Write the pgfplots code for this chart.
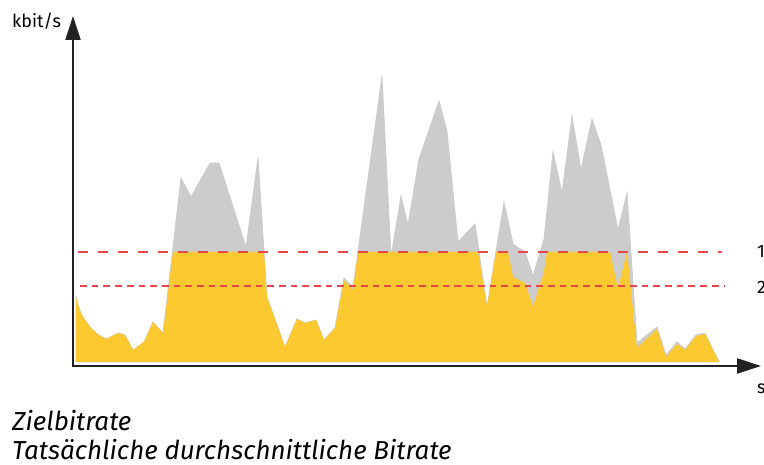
\documentclass[border=0pt]{standalone}
\usepackage{fontspec}
\setmainfont{Fira Sans}
\usepackage{pgfplots}
\pgfplotsset{compat=1.18}
\usetikzlibrary{arrows.meta}
\definecolor{areaY}{HTML}{FDC930}
\definecolor{areaG}{HTML}{CCCCCC}
\definecolor{dashR}{HTML}{E8474A}
\definecolor{axc}{HTML}{222222}
\begin{document}
\begin{tikzpicture}
\begin{axis}[at={(0,0)}, anchor=south west,
  scale only axis, width=764pt, height=465pt,
  xmin=0, xmax=764, ymin=0, ymax=465, y dir=reverse,
  hide axis, clip=false]
% original (uncapped) bitrate
\addplot[fill=areaG, draw=areaG, line width=0.8pt] coordinates {
(76,362) (76,297) (78,305) (81,313) (85,320) (90,327) (96,333) (102,337) (107,339) (112,336) (118,333) (125,335) (133,350) (144,342) (153,322) (163,333) (181,178) (191,197) (210,163) (219,163) (246,247) (258,158) (264,252) (267,297) (285,347) (297,319) (305,323) (316,320) (324,340) (335,328) (344,278) (353,288) (382,76) (391,257) (401,196) (408,225) (419,159) (439,101) (447,131) (458,242) (475,224) (487,307) (504,202) (513,244) (525,252) (533,276) (544,239) (553,152) (562,193) (572,116) (581,170) (592,119) (601,145) (618,230) (627,193) (637,343) (657,327) (666,355) (677,342) (685,349) (696,335) (705,333) (719,362)
} -- cycle;
% actual bitrate
\addplot[fill=areaY, draw=none] coordinates {
(76,362) (76,297) (78,305) (81,313) (85,320) (90,327) (96,333) (102,337) (107,339) (112,336) (118,333) (125,335) (133,350) (144,342) (153,322) (163,333) (173,252) (264,252) (267,297) (285,347) (297,319) (305,323) (316,320) (324,340) (335,328) (344,280) (353,290) (358,252) (478,252) (487,307) (496,252) (508,252) (513,277) (525,283) (533,307) (544,272) (547,252) (610,252) (618,288) (627,252) (637,348) (657,329) (666,357) (677,344) (685,350) (696,336) (705,334) (719,362)
} -- cycle;
% target lines
\addplot[dashR, line width=1.5pt, dash pattern=on 10pt off 10pt] coordinates {(78,252) (722,252)};
\addplot[dashR, line width=1.5pt, dash pattern=on 6.7pt off 5pt] coordinates {(80,286) (724,286)};
% axes
\draw[axc, line width=2.2pt, -{Triangle[length=24pt,width=15pt]}] (axis cs:73,366) -- (axis cs:73,16);
\draw[axc, line width=2.2pt, -{Triangle[length=24pt,width=15pt]}] (axis cs:72,366) -- (axis cs:761,366);
% labels
\node[anchor=base west, inner sep=0, font=\fontsize{18}{20}\selectfont] at (axis cs:12,28) {kbit/s};
\node[anchor=base west, inner sep=0, font=\fontsize{18}{20}\selectfont] at (axis cs:757,258) {1};
\node[anchor=base west, inner sep=0, font=\fontsize{18}{20}\selectfont] at (axis cs:757,294) {2};
\node[anchor=base west, inner sep=0, font=\fontsize{18}{20}\selectfont] at (axis cs:757,393) {s};
\node[anchor=base west, inner sep=0, font=\itshape\fontsize{26}{30}\selectfont] at (axis cs:12,431) {Zielbitrate};
\node[anchor=base west, inner sep=0, font=\itshape\fontsize{26}{30}\selectfont] at (axis cs:12,460) {Tatsächliche durchschnittliche Bitrate};
\coordinate (BBsw) at (axis cs:0,465);
\coordinate (BBne) at (axis cs:764,0);
\end{axis}
\pgfresetboundingbox
\useasboundingbox (BBsw) rectangle (BBne);
\end{tikzpicture}
\end{document}
